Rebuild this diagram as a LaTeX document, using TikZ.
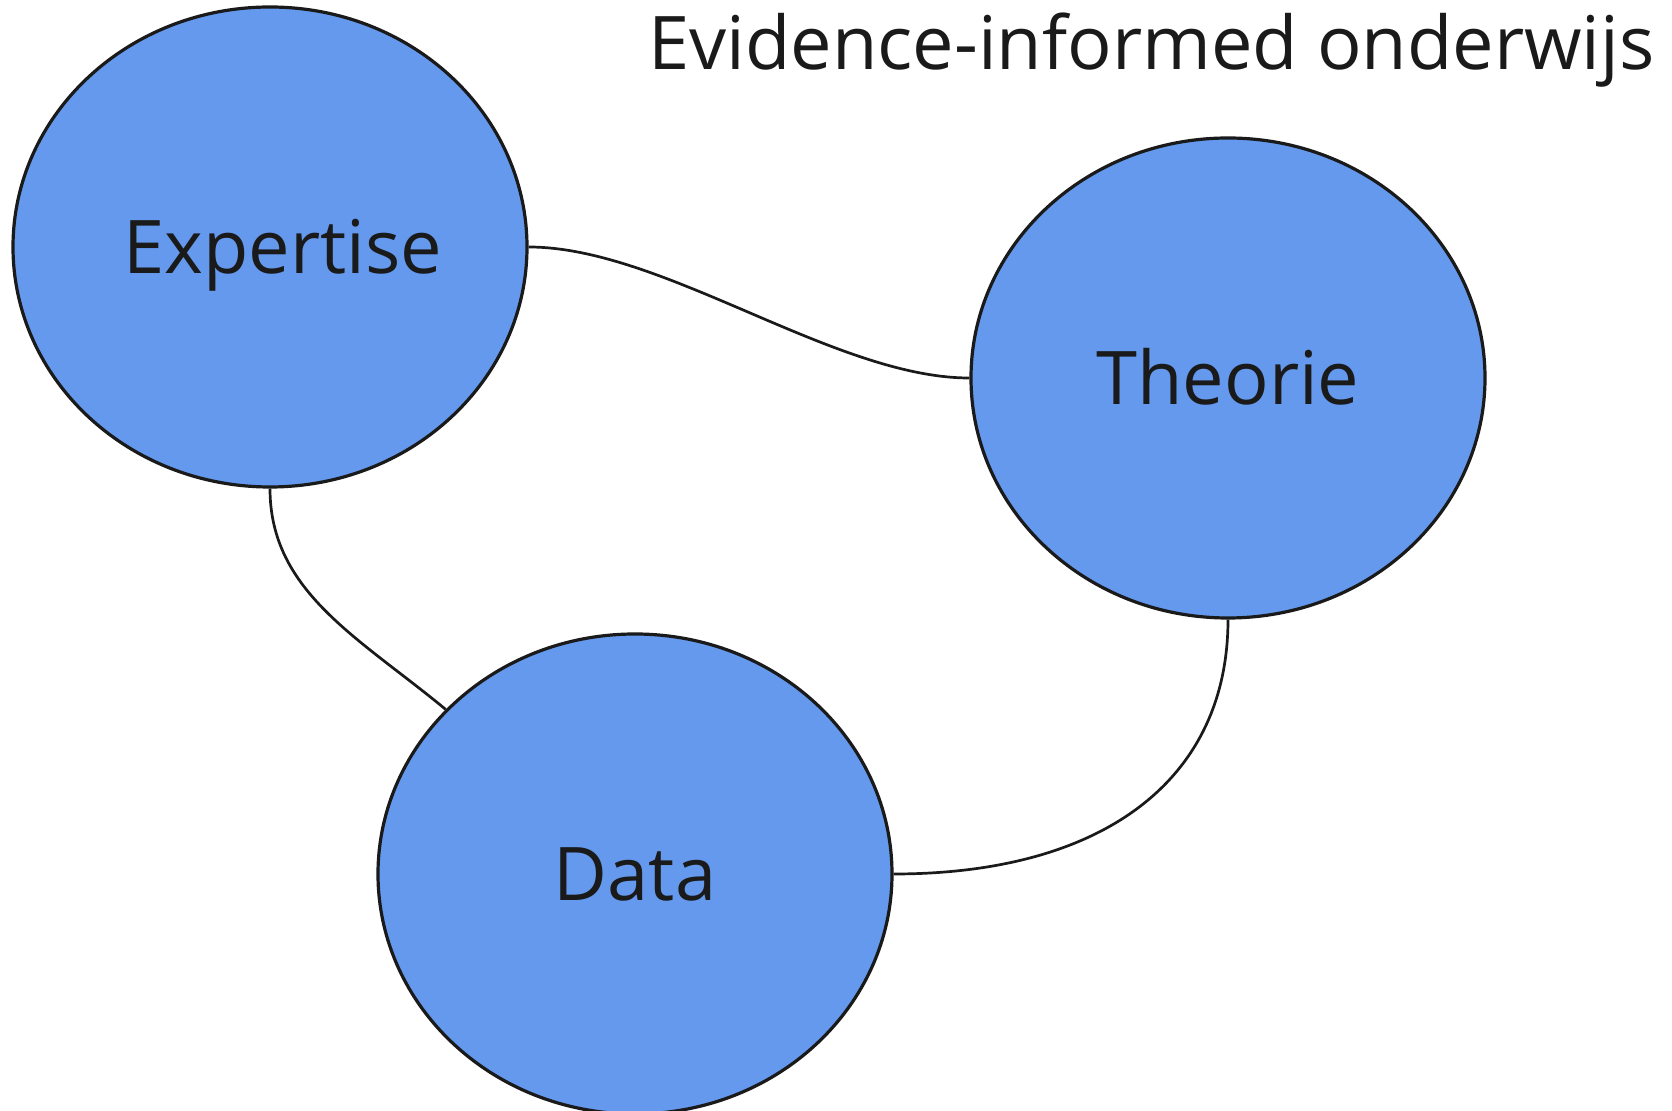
\documentclass[tikz,border=0pt]{standalone}
\usepackage{fontspec}
\setmainfont{Open Sans}
\usetikzlibrary{shapes.geometric}
\definecolor{bubblefill}{RGB}{100,153,238}
\definecolor{ink}{RGB}{26,26,26}
\begin{document}
\begin{tikzpicture}[x=0.5pt,y=-0.5pt,
  bubble/.style={ellipse, draw=ink, line width=1.6pt, fill=bubblefill,
    minimum width=257pt, minimum height=240pt, inner sep=0pt,
    text=ink, text height=26.5pt, text depth=0pt,
    font=\fontsize{37}{44}\selectfont},
  link/.style={draw=ink, line width=1.35pt}]
\useasboundingbox (0,0) rectangle (1672,1111);
\node[bubble] (e) at (270,247) {\hspace*{13pt}Expertise};
\node[bubble] (t) at (1228,378) {Theorie};
\node[bubble] (d) at (635,874) {Data};
\node[anchor=base west, inner sep=0pt, text=ink,
  font=\fontsize{37}{44}\selectfont] (title) at (648,70) {Evidence-informed onderwijs};
\draw[link] (e.east) .. controls +(135,0) and +(-135,0) .. (t.west);
\draw[link] (e.south) .. controls +(0,103) and +(-87,-72) .. (d.139);
\draw[link] (t.south) .. controls +(0,160) and +(210,0) .. (d.east);
\end{tikzpicture}
\end{document}
